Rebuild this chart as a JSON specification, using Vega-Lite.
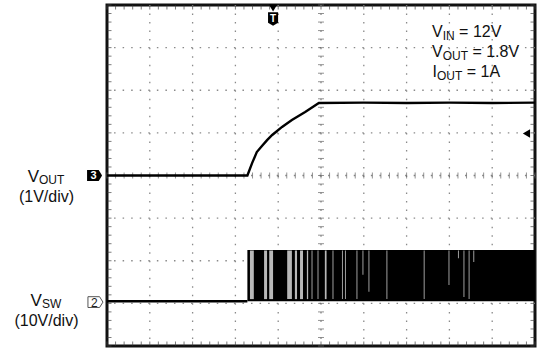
{
  "$schema": "https://vega.github.io/schema/vega-lite/v6.json",
  "width": 428,
  "height": 341,
  "autosize": {"type": "none"},
  "padding": {"left": 107, "top": 5, "right": 9, "bottom": 3},
  "background": "white",
  "config": {
    "view": {"stroke": "#111111", "strokeWidth": 3},
    "axis": {"disable": true},
    "font": "Liberation Sans"
  },
  "datasets": {
    "xmajor": [{"v":1},{"v":2},{"v":3},{"v":4},{"v":5},{"v":6},{"v":7},{"v":8},{"v":9}],
    "ymajor": [{"v":-3},{"v":-2},{"v":-1},{"v":0},{"v":1},{"v":2},{"v":3}],
    "xminor": [{"v":0},{"v":0.2},{"v":0.4},{"v":0.6},{"v":0.8},{"v":1},{"v":1.2},{"v":1.4},{"v":1.6},{"v":1.8},{"v":2},{"v":2.2},{"v":2.4},{"v":2.6},{"v":2.8},{"v":3},{"v":3.2},{"v":3.4},{"v":3.6},{"v":3.8},{"v":4},{"v":4.2},{"v":4.4},{"v":4.6},{"v":4.8},{"v":5},{"v":5.2},{"v":5.4},{"v":5.6},{"v":5.8},{"v":6},{"v":6.2},{"v":6.4},{"v":6.6},{"v":6.8},{"v":7},{"v":7.2},{"v":7.4},{"v":7.6},{"v":7.8},{"v":8},{"v":8.2},{"v":8.4},{"v":8.6},{"v":8.8},{"v":9},{"v":9.2},{"v":9.4},{"v":9.6},{"v":9.8},{"v":10}],
    "yminor": [{"v":-4},{"v":-3.8},{"v":-3.6},{"v":-3.4},{"v":-3.2},{"v":-3},{"v":-2.8},{"v":-2.6},{"v":-2.4},{"v":-2.2},{"v":-2},{"v":-1.8},{"v":-1.6},{"v":-1.4},{"v":-1.2},{"v":-1},{"v":-0.8},{"v":-0.6},{"v":-0.4},{"v":-0.2},{"v":0},{"v":0.2},{"v":0.4},{"v":0.6},{"v":0.8},{"v":1},{"v":1.2},{"v":1.4},{"v":1.6},{"v":1.8},{"v":2},{"v":2.2},{"v":2.4},{"v":2.6},{"v":2.8},{"v":3},{"v":3.2},{"v":3.4},{"v":3.6},{"v":3.8},{"v":4}],
    "traces": [
      {"ch":"VOUT","t":0,"v":0},{"ch":"VOUT","t":3.28,"v":0},{"ch":"VOUT","t":3.39,"v":0.29},{"ch":"VOUT","t":3.5,"v":0.55},{"ch":"VOUT","t":3.62,"v":0.69},{"ch":"VOUT","t":3.74,"v":0.83},{"ch":"VOUT","t":3.86,"v":0.95},{"ch":"VOUT","t":4.09,"v":1.14},{"ch":"VOUT","t":4.32,"v":1.3},{"ch":"VOUT","t":4.63,"v":1.49},{"ch":"VOUT","t":4.95,"v":1.7},{"ch":"VOUT","t":6,"v":1.71},{"ch":"VOUT","t":7,"v":1.7},{"ch":"VOUT","t":8,"v":1.71},{"ch":"VOUT","t":9,"v":1.7},{"ch":"VOUT","t":10,"v":1.71},
      {"ch":"VSW","t":0,"v":-2.95},{"ch":"VSW","t":3.28,"v":-2.95}
    ],
    "switching": [{"t":3.28,"t2":10,"lo":-2.95,"hi":-1.75}],
    "gaps": [
      {"t":3.34,"t2":3.43,"lo":-2.9,"hi":-1.76},
      {"t":3.67,"t2":3.74,"lo":-2.9,"hi":-1.76},
      {"t":3.79,"t2":3.88,"lo":-2.9,"hi":-1.76},
      {"t":4.21,"t2":4.32,"lo":-2.9,"hi":-1.76},
      {"t":4.39,"t2":4.44,"lo":-2.9,"hi":-1.76},
      {"t":4.51,"t2":4.58,"lo":-2.9,"hi":-1.76},
      {"t":4.67,"t2":4.7,"lo":-2.9,"hi":-1.76},
      {"t":4.78,"t2":4.8,"lo":-2.9,"hi":-1.76},
      {"t":4.92,"t2":4.94,"lo":-2.9,"hi":-1.76},
      {"t":5.09,"t2":5.13,"lo":-2.9,"hi":-1.76},
      {"t":5.27,"t2":5.29,"lo":-2.9,"hi":-1.76},
      {"t":5.49,"t2":5.51,"lo":-2.9,"hi":-1.76},
      {"t":5.56,"t2":5.58,"lo":-2.9,"hi":-1.76},
      {"t":5.83,"t2":5.85,"lo":-2.9,"hi":-1.76},
      {"t":5.97,"t2":5.99,"lo":-2.33,"hi":-1.76},
      {"t":6.11,"t2":6.13,"lo":-2.73,"hi":-1.76},
      {"t":6.53,"t2":6.55,"lo":-2.9,"hi":-1.76},
      {"t":7.4,"t2":7.42,"lo":-2.9,"hi":-1.76},
      {"t":7.98,"t2":8.0,"lo":-2.57,"hi":-1.76},
      {"t":8.2,"t2":8.22,"lo":-1.94,"hi":-1.76},
      {"t":8.33,"t2":8.35,"lo":-2.85,"hi":-1.76},
      {"t":8.45,"t2":8.47,"lo":-2.9,"hi":-1.76},
      {"t":8.56,"t2":8.58,"lo":-2.03,"hi":-1.76}
    ],
    "noteText": [
      {"s":"V","x":7.593,"y":3.25},{"s":"= 12V","x":8.227,"y":3.25},
      {"s":"V","x":7.593,"y":2.78},{"s":"= 1.8V","x":8.537,"y":2.78},
      {"s":"I","x":7.605,"y":2.31},{"s":"= 1A","x":8.405,"y":2.31}
    ],
    "noteSub": [
      {"s":"IN","x":7.843,"y":3.25},{"s":"OUT","x":7.843,"y":2.78},{"s":"OUT","x":7.71,"y":2.31}
    ],
    "chanText": [
      {"s":"V","x":-1.853,"y":-0.16},{"s":"V","x":-1.785,"y":-3.05}
    ],
    "chanSub": [
      {"s":"OUT","x":-1.589,"y":-0.16},{"s":"SW","x":-1.519,"y":-3.05}
    ],
    "scaleText": [
      {"s":"(1V/div)","x":-1.414,"y":-0.63},{"s":"(10V/div)","x":-1.414,"y":-3.52}
    ]
  },
  "layer": [
    {
      "data": {"name": "xmajor"},
      "mark": {"type": "rule", "color": "#8a8a8a", "strokeWidth": 1.3, "strokeDash": [1.5, 7.025]},
      "encoding": {"x": {"field": "v", "type": "quantitative", "scale": {"domain": [0, 10], "nice": false, "zero": false}}}
    },
    {
      "data": {"name": "ymajor"},
      "mark": {"type": "rule", "color": "#8a8a8a", "strokeWidth": 1.3, "strokeDash": [1.5, 7.06]},
      "encoding": {"y": {"field": "v", "type": "quantitative", "scale": {"domain": [-4, 4], "nice": false, "zero": false}}}
    },
    {
      "data": {"name": "xminor"},
      "mark": {"type": "tick", "orient": "vertical", "size": 6, "thickness": 1, "color": "#666666"},
      "encoding": {"x": {"field": "v", "type": "quantitative"}, "y": {"datum": 0}}
    },
    {
      "data": {"name": "yminor"},
      "mark": {"type": "tick", "orient": "horizontal", "size": 6, "thickness": 1, "color": "#666666"},
      "encoding": {"y": {"field": "v", "type": "quantitative"}, "x": {"datum": 5}}
    },
    {
      "data": {"name": "xminor"},
      "mark": {"type": "tick", "orient": "vertical", "size": 4, "thickness": 1, "color": "#444444", "yOffset": 2.5},
      "encoding": {"x": {"field": "v", "type": "quantitative"}, "y": {"datum": 4}}
    },
    {
      "data": {"name": "xminor"},
      "mark": {"type": "tick", "orient": "vertical", "size": 4, "thickness": 1, "color": "#444444", "yOffset": -2.5},
      "encoding": {"x": {"field": "v", "type": "quantitative"}, "y": {"datum": -4}}
    },
    {
      "data": {"name": "yminor"},
      "mark": {"type": "tick", "orient": "horizontal", "size": 4, "thickness": 1, "color": "#444444", "xOffset": 2.5},
      "encoding": {"y": {"field": "v", "type": "quantitative"}, "x": {"datum": 0}}
    },
    {
      "data": {"name": "yminor"},
      "mark": {"type": "tick", "orient": "horizontal", "size": 4, "thickness": 1, "color": "#444444", "xOffset": -2.5},
      "encoding": {"y": {"field": "v", "type": "quantitative"}, "x": {"datum": 10}}
    },
    {
      "data": {"name": "switching"},
      "mark": {"type": "rect", "color": "#000000"},
      "encoding": {
        "x": {"field": "t", "type": "quantitative"}, "x2": {"field": "t2"},
        "y": {"field": "lo", "type": "quantitative"}, "y2": {"field": "hi"}
      }
    },
    {
      "data": {"name": "gaps"},
      "mark": {"type": "rect", "color": "#b8b8b8"},
      "encoding": {
        "x": {"field": "t", "type": "quantitative"}, "x2": {"field": "t2"},
        "y": {"field": "lo", "type": "quantitative"}, "y2": {"field": "hi"}
      }
    },
    {
      "data": {"name": "traces"},
      "mark": {"type": "line", "color": "#000000", "strokeWidth": 2.4},
      "encoding": {
        "x": {"field": "t", "type": "quantitative"},
        "y": {"field": "v", "type": "quantitative"},
        "detail": {"field": "ch"}
      }
    },
    {
      "data": {"values": [{"x": -0.29, "y": 0}]},
      "mark": {"type": "point", "shape": "M-1,-0.72L0.55,-0.72L1,0L0.55,0.72L-1,0.72Z", "size": 225, "filled": true, "color": "#000000", "opacity": 1},
      "encoding": {"x": {"field": "x", "type": "quantitative"}, "y": {"field": "y", "type": "quantitative"}}
    },
    {
      "data": {"values": [{"x": -0.29, "y": 0, "s": "3"}]},
      "mark": {"type": "text", "color": "#ffffff", "fontSize": 11, "fontWeight": "bold", "align": "center", "baseline": "middle", "dx": -1, "dy": 0.5},
      "encoding": {"x": {"field": "x", "type": "quantitative"}, "y": {"field": "y", "type": "quantitative"}, "text": {"field": "s"}}
    },
    {
      "data": {"values": [{"x": -0.27, "y": -2.97}]},
      "mark": {"type": "point", "shape": "M-1,-0.72L0.55,-0.72L1,0L0.55,0.72L-1,0.72Z", "size": 225, "filled": true, "fill": "#ffffff", "stroke": "#555555", "strokeWidth": 1, "opacity": 1},
      "encoding": {"x": {"field": "x", "type": "quantitative"}, "y": {"field": "y", "type": "quantitative"}}
    },
    {
      "data": {"values": [{"x": -0.27, "y": -2.97, "s": "2"}]},
      "mark": {"type": "text", "color": "#222222", "fontSize": 12, "align": "center", "baseline": "middle", "dx": -1, "dy": 0.5},
      "encoding": {"x": {"field": "x", "type": "quantitative"}, "y": {"field": "y", "type": "quantitative"}, "text": {"field": "s"}}
    },
    {
      "data": {"values": [{"x": 3.88, "y": 4}]},
      "mark": {"type": "point", "shape": "triangle-down", "size": 70, "filled": true, "color": "#000000", "opacity": 1, "yOffset": 3},
      "encoding": {"x": {"field": "x", "type": "quantitative"}, "y": {"field": "y", "type": "quantitative"}}
    },
    {
      "data": {"values": [{"x": 3.88, "y": 3.67}]},
      "mark": {"type": "point", "shape": "M-0.75,-1L0.75,-1L0.75,0.55L0,1L-0.75,0.55Z", "size": 180, "filled": true, "color": "#000000", "opacity": 1},
      "encoding": {"x": {"field": "x", "type": "quantitative"}, "y": {"field": "y", "type": "quantitative"}}
    },
    {
      "data": {"values": [{"x": 3.88, "y": 3.67, "s": "T"}]},
      "mark": {"type": "text", "color": "#ffffff", "fontSize": 10, "fontWeight": "bold", "align": "center", "baseline": "middle", "dy": 0},
      "encoding": {"x": {"field": "x", "type": "quantitative"}, "y": {"field": "y", "type": "quantitative"}, "text": {"field": "s"}}
    },
    {
      "data": {"values": [{"x": 9.8, "y": 0.985}]},
      "mark": {"type": "point", "shape": "triangle-left", "size": 70, "filled": true, "color": "#000000", "opacity": 1},
      "encoding": {"x": {"field": "x", "type": "quantitative"}, "y": {"field": "y", "type": "quantitative"}}
    },
    {
      "data": {"name": "noteText"},
      "mark": {"type": "text", "fontSize": 16, "color": "#111111", "align": "left", "baseline": "alphabetic"},
      "encoding": {"x": {"field": "x", "type": "quantitative"}, "y": {"field": "y", "type": "quantitative"}, "text": {"field": "s"}}
    },
    {
      "data": {"name": "noteSub"},
      "mark": {"type": "text", "fontSize": 12, "color": "#111111", "align": "left", "baseline": "alphabetic", "dy": 3},
      "encoding": {"x": {"field": "x", "type": "quantitative"}, "y": {"field": "y", "type": "quantitative"}, "text": {"field": "s"}}
    },
    {
      "data": {"name": "chanText"},
      "mark": {"type": "text", "fontSize": 17, "color": "#111111", "align": "left", "baseline": "alphabetic"},
      "encoding": {"x": {"field": "x", "type": "quantitative"}, "y": {"field": "y", "type": "quantitative"}, "text": {"field": "s"}}
    },
    {
      "data": {"name": "chanSub"},
      "mark": {"type": "text", "fontSize": 12, "color": "#111111", "align": "left", "baseline": "alphabetic", "dy": 2},
      "encoding": {"x": {"field": "x", "type": "quantitative"}, "y": {"field": "y", "type": "quantitative"}, "text": {"field": "s"}}
    },
    {
      "data": {"name": "scaleText"},
      "mark": {"type": "text", "fontSize": 16, "color": "#111111", "align": "center", "baseline": "alphabetic"},
      "encoding": {"x": {"field": "x", "type": "quantitative"}, "y": {"field": "y", "type": "quantitative"}, "text": {"field": "s"}}
    }
  ]
}
